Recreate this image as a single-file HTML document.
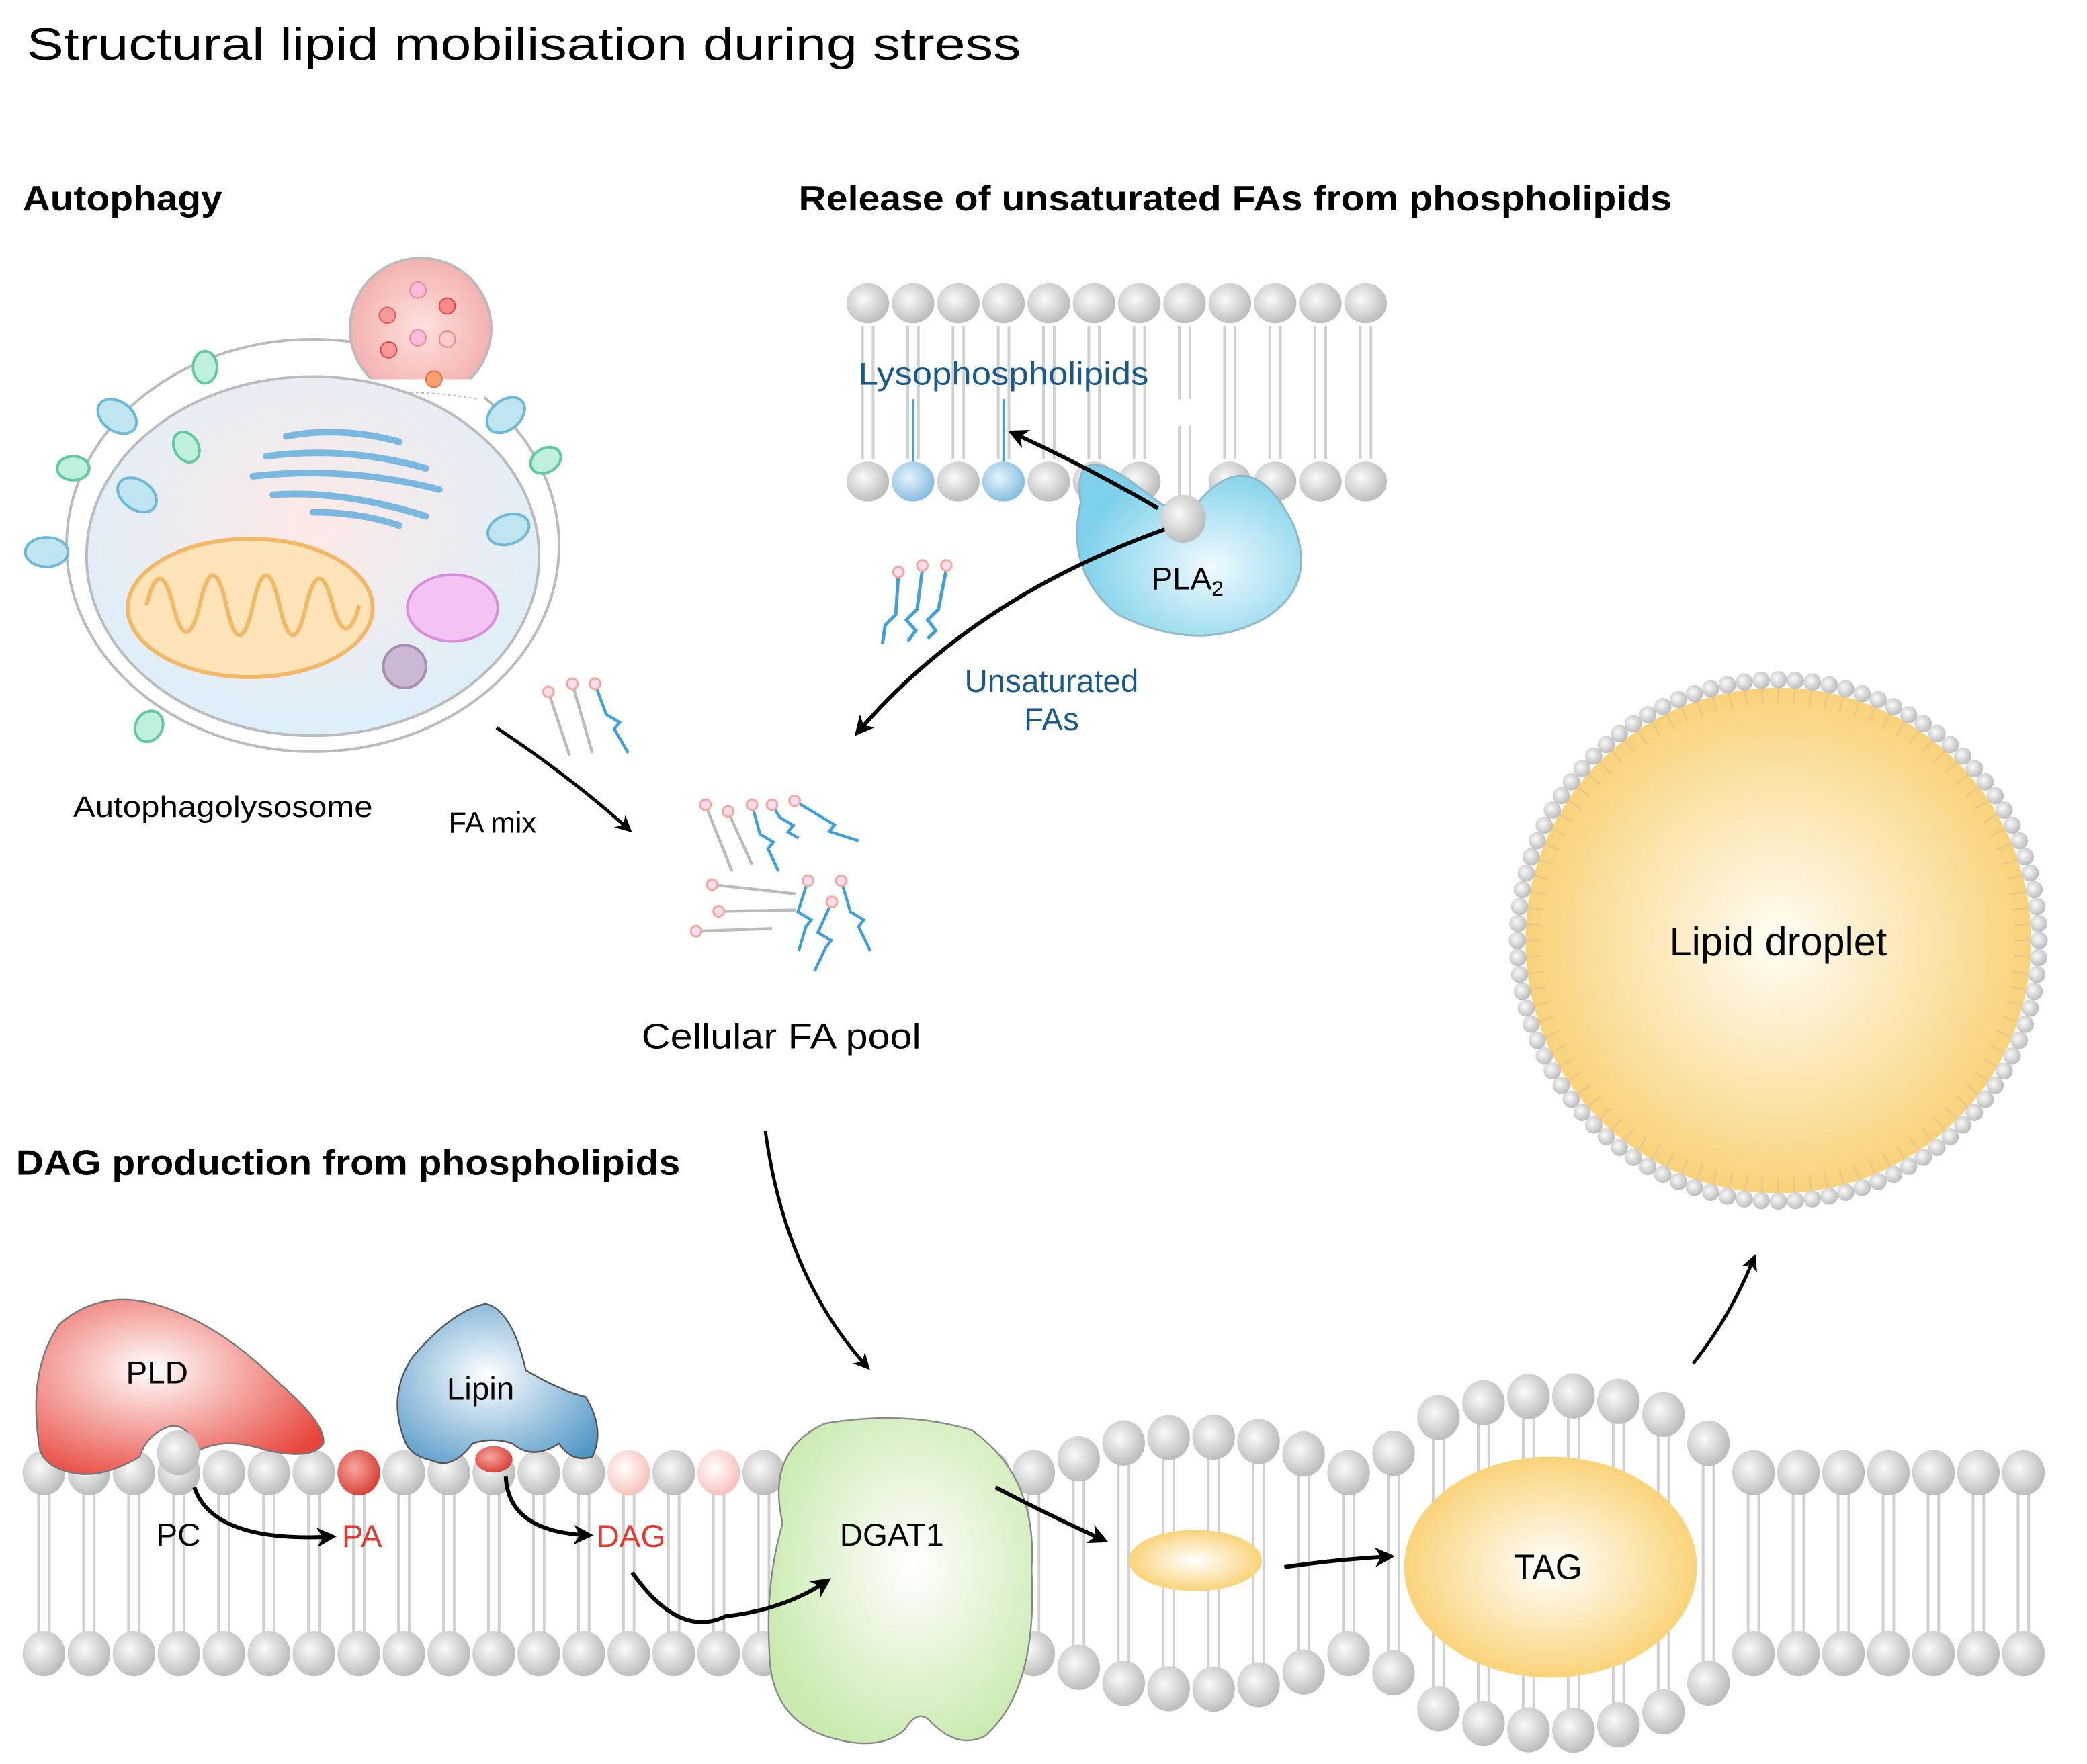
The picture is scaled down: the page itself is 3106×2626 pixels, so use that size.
<!DOCTYPE html>
<html><head><meta charset="utf-8"><style>
html,body{margin:0;padding:0;background:#fff}
svg{display:block}
text{font-family:"Liberation Sans",sans-serif}
</style></head><body>
<svg id="s" width="3106" height="2626" viewBox="0 0 1568 1326" preserveAspectRatio="none" xmlns="http://www.w3.org/2000/svg">
<defs>
<radialGradient id="hd" cx="0.4" cy="0.4" r="0.6"><stop offset="0" stop-color="#fafafa"/><stop offset="1" stop-color="#bdbdbd"/></radialGradient>
<radialGradient id="bh" cx="0.4" cy="0.4" r="0.6"><stop offset="0" stop-color="#e6f3fb"/><stop offset="1" stop-color="#88bfe2"/></radialGradient>
<radialGradient id="rh" cx="0.4" cy="0.4" r="0.6"><stop offset="0" stop-color="#f6a7a0"/><stop offset="1" stop-color="#d9453a"/></radialGradient>
<radialGradient id="ph" cx="0.4" cy="0.4" r="0.6"><stop offset="0" stop-color="#fff"/><stop offset="1" stop-color="#f7c3bb"/></radialGradient>
<radialGradient id="pla" cx="0.6" cy="0.6" r="0.6"><stop offset="0" stop-color="#f0fafe"/><stop offset="1" stop-color="#7cd0ea"/></radialGradient>
<radialGradient id="pld" cx="0.4" cy="0.4" r="0.7"><stop offset="0" stop-color="#fff"/><stop offset="1" stop-color="#e8443a"/></radialGradient>
<radialGradient id="lip" cx="0.45" cy="0.45" r="0.7"><stop offset="0" stop-color="#fff"/><stop offset="1" stop-color="#4d95c6"/></radialGradient>
<radialGradient id="dg" cx="0.55" cy="0.45" r="0.6"><stop offset="0" stop-color="#fff"/><stop offset="1" stop-color="#c9eaae"/></radialGradient>
<radialGradient id="yl" cx="0.5" cy="0.5" r="0.55"><stop offset="0" stop-color="#fff"/><stop offset="1" stop-color="#f9cf6d"/></radialGradient>
<radialGradient id="ld" cx="0.5" cy="0.5" r="0.5"><stop offset="0" stop-color="#fffdf5"/><stop offset="1" stop-color="#f9d27a"/></radialGradient>
<radialGradient id="cell" cx="0.5" cy="0.4" r="0.6"><stop offset="0" stop-color="#fde9e6"/><stop offset="1" stop-color="#dceffa"/></radialGradient>
<radialGradient id="bud" cx="0.5" cy="0.5" r="0.6"><stop offset="0" stop-color="#fde1df"/><stop offset="1" stop-color="#f1a9a6"/></radialGradient>
<marker id="ah" viewBox="0 0 10 10" refX="8" refY="5" markerWidth="5" markerHeight="5" orient="auto"><path d="M0,0L10,5L0,10L3,5z" fill="#000"/></marker>
</defs>

<text x="20" y="45" font-size="34" textLength="747" lengthAdjust="spacingAndGlyphs">Structural lipid mobilisation during stress</text>
<text x="17" y="158" font-size="26" font-weight="bold" textLength="150" lengthAdjust="spacingAndGlyphs">Autophagy</text>
<text x="600" y="158" font-size="26" font-weight="bold" textLength="656" lengthAdjust="spacingAndGlyphs">Release of unsaturated FAs from phospholipids</text>
<text x="12" y="883" font-size="26" font-weight="bold" textLength="499" lengthAdjust="spacingAndGlyphs">DAG production from phospholipids</text>

<g>
<ellipse cx="235" cy="410" rx="185" ry="155" fill="#fff" stroke="#bbb" stroke-width="2"/>
<circle cx="316" cy="247" r="53" fill="url(#bud)" stroke="#bbb" stroke-width="2"/>
<rect x="268" y="285" width="96" height="20" fill="#fff"/>
<path d="M265,300 Q300,290 360,300" stroke="#bbb" stroke-dasharray="2 2" fill="none"/>
<ellipse cx="235" cy="418" rx="170" ry="135" fill="url(#cell)" stroke="#bbb" stroke-width="2"/>
<circle cx="291" cy="237" r="6" fill="#f59a9a" stroke="#e55" /><circle cx="314" cy="218" r="6" fill="#fbd" stroke="#e88"/><circle cx="336" cy="230" r="6" fill="#f88" stroke="#d44"/><circle cx="314" cy="254" r="6" fill="#fbd" stroke="#e88"/><circle cx="292" cy="263" r="6" fill="#f99" stroke="#d44"/><circle cx="336" cy="255" r="6" fill="#fcc" stroke="#e88"/><circle cx="326" cy="285" r="6" fill="#f6a070" stroke="#e07040"/>
<ellipse cx="188" cy="457" rx="92" ry="52" fill="#fde3b8" stroke="#f3b865" stroke-width="3"/>
<path d="M110,455 q10,-40 20,0 q10,40 20,0 q10,-45 20,0 q10,45 20,0 q10,-45 20,0 q10,45 20,0 q10,-40 20,0 q10,35 20,0" stroke="#f3b865" stroke-width="3" fill="none"/>
<ellipse cx="340" cy="457" rx="34" ry="25" fill="#f4c3f4" stroke="#d58fd8" stroke-width="2"/>
<circle cx="304" cy="501" r="16" fill="#cbb9d4" stroke="#a58db3" stroke-width="2"/>
<g stroke="#7ab8e0" stroke-width="5" stroke-linecap="round" fill="none">
<path d="M215,328 Q255,320 300,332"/><path d="M200,343 Q260,335 320,352"/><path d="M190,358 Q260,350 330,368"/><path d="M205,372 Q255,368 320,388"/><path d="M235,385 Q270,385 300,395"/></g>
<g fill="#bfe6f0" stroke="#6cb8d6" stroke-width="2">
<ellipse cx="88" cy="313" rx="16" ry="11" transform="rotate(35 88 313)"/><ellipse cx="103" cy="372" rx="16" ry="11" transform="rotate(35 103 372)"/><ellipse cx="35" cy="415" rx="16" ry="11"/><ellipse cx="380" cy="312" rx="16" ry="11" transform="rotate(-40 380 312)"/><ellipse cx="382" cy="398" rx="16" ry="11" transform="rotate(-20 382 398)"/></g>
<g fill="#bff0dc" stroke="#5fc9a0" stroke-width="2">
<ellipse cx="154" cy="276" rx="9" ry="12"/><ellipse cx="140" cy="336" rx="9" ry="12" transform="rotate(-30 140 336)"/><ellipse cx="55" cy="352" rx="12" ry="9"/><ellipse cx="410" cy="346" rx="12" ry="9" transform="rotate(-30 410 346)"/><ellipse cx="112" cy="546" rx="10" ry="12" transform="rotate(30 112 546)"/></g>
</g>
<text x="55" y="614" font-size="22" textLength="225" lengthAdjust="spacingAndGlyphs">Autophagolysosome</text>
<text x="337" y="626" font-size="22">FA mix</text>
<path d="M373,547 Q430,585 473,624" stroke="#000" stroke-width="2.5" fill="none" marker-end="url(#ah)"/>
<g id="fam"></g>

<g id="topm"></g>
<text x="645" y="289" font-size="24" fill="#1a5a8a" textLength="218" lengthAdjust="spacingAndGlyphs">Lysophospholipids</text>
<path d="M812,378 Q805,330 850,362 L874,380 L900,378 Q940,330 972,395 Q990,440 950,465 Q900,492 840,462 Q800,430 812,378z" fill="url(#pla)" stroke="#8fb8c8" stroke-width="1.5"/>
<ellipse cx="889" cy="390" rx="17" ry="18" fill="url(#hd)"/>
<text x="865" y="443" font-size="24">PLA<tspan font-size="16" dy="5">2</tspan></text>
<path d="M870,382 Q815,350 760,325" stroke="#000" stroke-width="3" fill="none" marker-end="url(#ah)"/>
<path d="M875,398 Q730,450 644,551" stroke="#000" stroke-width="3" fill="none" marker-end="url(#ah)"/>
<text x="790" y="520" font-size="24" fill="#1a5a8a" text-anchor="middle">Unsaturated</text>
<text x="790" y="549" font-size="24" fill="#1a5a8a" text-anchor="middle">FAs</text>
<g fill="none" stroke="#3fa0dc" stroke-width="2.5">
<path d="M675,432 L673,462 L665,470 L663,484"/><path d="M693,428 L689,458 L681,466 L688,474 L682,482"/><path d="M711,428 L705,458 L697,466 L703,474 L697,480"/></g>
<g fill="#fde" stroke="#f4a89c" stroke-width="1.5"><circle cx="675" cy="430" r="4"/><circle cx="693" cy="425" r="4"/><circle cx="711" cy="425" r="4"/></g>

<text x="482" y="788" font-size="26" textLength="210" lengthAdjust="spacingAndGlyphs">Cellular FA pool</text>
<path d="M575,850 Q590,960 652,1028" stroke="#000" stroke-width="2.5" fill="none" marker-end="url(#ah)"/>

<g id="drop"></g>
<text x="1336" y="718" font-size="30" text-anchor="middle">Lipid droplet</text>
<path d="M1272,1025 Q1300,990 1318,945" stroke="#000" stroke-width="2.5" fill="none" marker-end="url(#ah)"/>

<g id="botm"></g>
<ellipse cx="898" cy="1173" rx="50" ry="23" fill="url(#yl)"/>
<ellipse cx="1165" cy="1178" rx="110" ry="83" fill="url(#yl)"/>
<path d="M30,1090 Q20,1030 45,995 Q80,965 130,985 Q170,1000 210,1040 Q245,1070 243,1085 Q235,1098 200,1090 Q170,1080 150,1090 Q140,1070 128,1072 Q110,1078 105,1095 Q80,1110 60,1108 Q35,1105 30,1090z" fill="url(#pld)" stroke="#777" stroke-width="1.2"/>
<ellipse cx="134" cy="1092" rx="16" ry="17" fill="url(#hd)"/>
<path d="M305,1085 Q290,1050 310,1020 Q340,985 365,980 Q385,985 395,1030 Q420,1045 440,1050 Q455,1075 445,1095 Q430,1100 420,1085 Q400,1098 385,1085 Q370,1080 355,1085 Q340,1105 325,1098 Q310,1095 305,1085z" fill="url(#lip)" stroke="#555" stroke-width="1.2"/>
<ellipse cx="371" cy="1097" rx="14" ry="10" fill="url(#rh)"/>
<path d="M588,1145 Q575,1090 620,1070 Q680,1060 730,1075 Q780,1110 775,1180 Q780,1270 740,1305 Q720,1315 700,1295 Q690,1283 680,1300 Q660,1318 620,1305 Q578,1290 578,1240 Q575,1190 588,1145z" fill="url(#dg)" stroke="#888" stroke-width="1.2"/>
<text x="118" y="1040" font-size="24" text-anchor="middle">PLD</text>
<text x="361" y="1052" font-size="24" text-anchor="middle">Lipin</text>
<text x="134" y="1162" font-size="24" text-anchor="middle">PC</text>
<text x="272" y="1163" font-size="24" text-anchor="middle" fill="#e23a2e">PA</text>
<text x="474" y="1163" font-size="24" text-anchor="middle" fill="#e23a2e">DAG</text>
<text x="670" y="1162" font-size="24" text-anchor="middle">DGAT1</text>
<text x="1163" y="1187" font-size="26" text-anchor="middle">TAG</text>
<g stroke="#000" stroke-width="3" fill="none" marker-end="url(#ah)">
<path d="M146,1118 Q160,1160 250,1155"/>
<path d="M380,1110 Q382,1152 443,1154"/>
<path d="M475,1182 Q510,1232 545,1215 Q590,1210 622,1188"/>
<path d="M748,1118 Q790,1140 830,1158"/>
<path d="M965,1178 Q1005,1172 1045,1170"/>
</g>
</svg>
<script>
var NS="http://www.w3.org/2000/svg";
function el(p,t,a){var e=document.createElementNS(NS,t);for(var k in a)e.setAttribute(k,a[k]);p.appendChild(e);return e;}
function head(g,x,y,f,rx,ry){el(g,"ellipse",{cx:x,cy:y,rx:rx||16,ry:ry||16,fill:f||"url(#hd)"});}
function ln(g,x1,y1,x2,y2,c,w){el(g,"line",{x1:x1,y1:y1,x2:x2,y2:y2,stroke:c||"#d0d0d0","stroke-width":w||2});}
var t=document.getElementById("topm");
for(var i=0;i<12;i++){var x=652+34*i;
 if(i==7){ln(t,x-4,245,x-4,300);ln(t,x+4,245,x+4,300);ln(t,x-4,320,x-4,375);ln(t,x+4,320,x+4,375);}
 else{ln(t,x-4,245,x-4,345);ln(t,x+4,245,x+4,345);}
 head(t,x,228,null,16,15);
 if(i==1||i==3){ln(t,x,300,x,348,"#4a9fd2",1.8);head(t,x,362,"url(#bh)",16,15);}
 else if(i!=7) head(t,x,362,null,16,15);
}
var f=document.getElementById("fam");
function fa(x1,y1,x2,y2,c,zig){var g=f;
 if(zig){var mx=(x1+x2)/2,my=(y1+y2)/2;el(g,"polyline",{points:x1+","+y1+" "+(mx-4)+","+(my-3)+" "+(mx+6)+","+(my+3)+" "+(mx+2)+","+(my+8)+" "+x2+","+y2,fill:"none",stroke:c,"stroke-width":2.2});}
 else ln(g,x1,y1,x2,y2,c,2.2);
 el(g,"circle",{cx:x1,cy:y1,r:4,fill:"#fde",stroke:"#f4a89c","stroke-width":1.5});}
fa(412,520,428,568,"#bbb");fa(430,514,445,566,"#bbb");fa(447,514,472,566,"#3fa0dc",1);
fa(530,605,550,655,"#bbb");fa(547,610,565,650,"#bbb");fa(565,605,585,655,"#3fa0dc",1);fa(580,605,600,630,"#3fa0dc",1);fa(597,602,645,632,"#3fa0dc",1);
fa(535,665,598,672,"#bbb");fa(540,685,598,684,"#bbb");fa(523,700,580,698,"#bbb");
fa(607,662,600,715,"#3fa0dc",1);fa(625,678,612,730,"#3fa0dc",1);fa(632,662,654,715,"#3fa0dc",1);
var d=document.getElementById("drop");
el(d,"circle",{cx:1336,cy:707,r:190,fill:"url(#ld)"});
for(var k=0;k<96;k++){var a=k*2*Math.PI/96,c=Math.cos(a),s=Math.sin(a);
 ln(d,1336+c*178,707+s*178,1336+c*192,707+s*192,"#e8c987",1.5);}
for(var k=0;k<96;k++){var a=k*2*Math.PI/96;el(d,"circle",{cx:1336+Math.cos(a)*196,cy:707+Math.sin(a)*196,r:6.5,fill:"url(#hd)"});}
var b=document.getElementById("botm");
function bump(x){var v=0,u=(x-898)/95;if(Math.abs(u)<1)v+=27*Math.sqrt(1-u*u);u=(x-1168)/125;if(Math.abs(u)<1)v+=58*Math.sqrt(1-u*u);return v;}
var xs=[];for(var x=33;x<=1545;x+=33.8)xs.push(x);
xs.forEach(function(x){var h=bump(x);var ty=1107-h,by=1243+h;
 ln(b,x-4,ty+15,x-4,by-15);ln(b,x+4,ty+15,x+4,by-15);});
xs.forEach(function(x){var h=bump(x);var ty=1107-h,by=1243+h;
 var f=null;if(Math.abs(x-270)<10)f="url(#rh)";if(Math.abs(x-473)<10||Math.abs(x-540)<10)f="url(#ph)";
 head(b,x,ty,f,16,17);head(b,x,by,null,16,17);});
</script>
</body></html>
